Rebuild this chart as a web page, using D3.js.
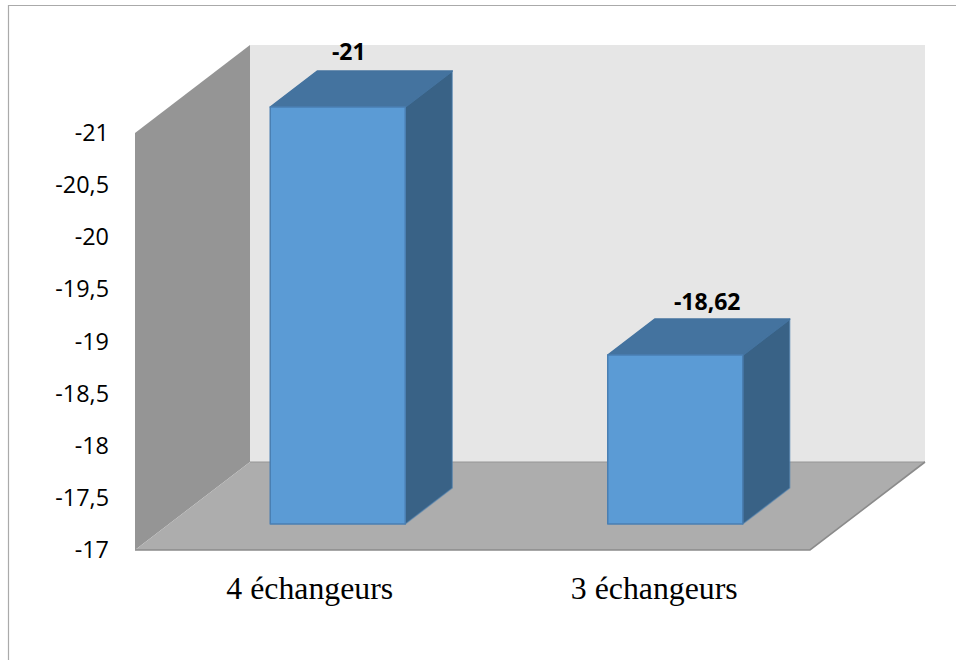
<!DOCTYPE html>
<html>
<head>
<meta charset="utf-8">
<script src="https://cdn.jsdelivr.net/npm/d3@7/dist/d3.min.js"></script>
<style>
html, body { margin: 0; padding: 0; background: #fff; }
svg { display: block; }
</style>
</head>
<body>
<svg id="chart" width="956" height="660"></svg>
<script>
// Chart data
const categories = ["4 échangeurs", "3 échangeurs"];
const values = [-21, -18.62];
const valueLabels = ["-21", "-18,62"];
const axisTicks = [-21, -20.5, -20, -19.5, -19, -18.5, -18, -17.5, -17];

// Front plane of the 3D box and its receding depth
const plot = { left: 135, right: 810, top: 133, bottom: 550 };
const boxDepth = { x: 115, y: -88 };
const barInset = { x: 34, y: -26 };
const barDepth = { x: 47, y: -36 };

const color = {
  wall: "#e6e6e6", side: "#959595", floor: "#adadad", floorEdge: "#8b8b8b",
  front: "#5b9bd5", frontEdge: "#4a7fb2", top: "#44739f", right: "#396286"
};

const svg = d3.select("#chart");

const x = d3.scaleBand().domain(categories)
  .range([plot.left, plot.right]).paddingInner(0.6).paddingOuter(0.3);
const y = d3.scaleLinear().domain([-17, -21]).range([plot.bottom, plot.top]);

const poly = (pts, fill, stroke) => svg.append("polygon")
  .attr("points", pts.map(p => p.join(",")).join(" "))
  .attr("fill", fill)
  .attr("stroke", stroke || "none")
  .attr("stroke-width", stroke ? 1.5 : 0)
  .attr("stroke-linejoin", "round");

// Outer chart frame (top and left edges only)
svg.append("path").attr("d", "M8.5,660V5.5H956")
  .attr("fill", "none").attr("stroke", "#aaaaaa").attr("stroke-width", 1.2);

// Walls and floor of the 3D box
const L = plot.left, R = plot.right, T = plot.top, B = plot.bottom;
const dx = boxDepth.x, dy = boxDepth.y;
poly([[L + dx, T + dy], [R + dx, T + dy], [R + dx, B + dy], [L + dx, B + dy]], color.wall);
poly([[L, T], [L + dx, T + dy], [L + dx, B + dy], [L, B]], color.side);
poly([[L, B], [L + dx, B + dy], [R + dx, B + dy], [R, B]], color.floor);
svg.append("line").attr("x1", L + dx).attr("x2", R + dx).attr("y1", B + dy).attr("y2", B + dy)
  .attr("stroke", "#969696").attr("stroke-width", 1);
svg.append("path").attr("d", `M${L},${B}H${R}L${R + dx},${B + dy}`)
  .attr("fill", "none").attr("stroke", color.floorEdge).attr("stroke-width", 1.6);

// Extruded bars
categories.forEach((c, i) => {
  const x0 = x(c) + barInset.x, x1 = x0 + x.bandwidth();
  const yBase = y(-17) + barInset.y, yTop = y(values[i]) + barInset.y;
  const ox = barDepth.x, oy = barDepth.y;
  poly([[x1, yTop], [x1 + ox, yTop + oy], [x1 + ox, yBase + oy], [x1, yBase]], color.right, color.frontEdge + "80");
  poly([[x0, yTop], [x0 + ox, yTop + oy], [x1 + ox, yTop + oy], [x1, yTop]], color.top, color.top);
  poly([[x0, yTop], [x1, yTop], [x1, yBase], [x0, yBase]], color.front, color.frontEdge);
});

// Value axis, printed to the left of the side wall
const axis = d3.axisLeft(y).tickValues(axisTicks).tickSize(0).tickPadding(26)
  .tickFormat(d => String(d).replace(".", ","));
const gAxis = svg.append("g").attr("transform", `translate(${plot.left},0)`).call(axis);
gAxis.select(".domain").remove();
gAxis.selectAll("text")
  .attr("font-family", "'Open Sans', sans-serif").attr("font-size", 23.4).attr("fill", "#000");

// Category labels
const catShift = [6, 13];
svg.selectAll(".cat").data(categories).join("text").attr("class", "cat")
  .attr("x", (d, i) => x(d) + x.bandwidth() / 2 + catShift[i])
  .attr("y", 599)
  .attr("text-anchor", "middle")
  .attr("font-family", "'Liberation Serif', serif")
  .attr("font-size", 31.8)
  .attr("fill", "#000")
  .text(d => d);

// Value labels above each bar
const labelShift = [45, 66];
const labelRaise = [11, 9];
svg.selectAll(".val").data(values).join("text").attr("class", "val")
  .attr("x", (d, i) => x(categories[i]) + x.bandwidth() / 2 + labelShift[i])
  .attr("y", (d, i) => y(d) + barInset.y + barDepth.y - labelRaise[i])
  .attr("text-anchor", "middle")
  .attr("font-family", "'Open Sans', sans-serif")
  .attr("font-weight", 700)
  .attr("font-size", 23)
  .attr("fill", "#000")
  .text((d, i) => valueLabels[i]);
</script>
</body>
</html>
